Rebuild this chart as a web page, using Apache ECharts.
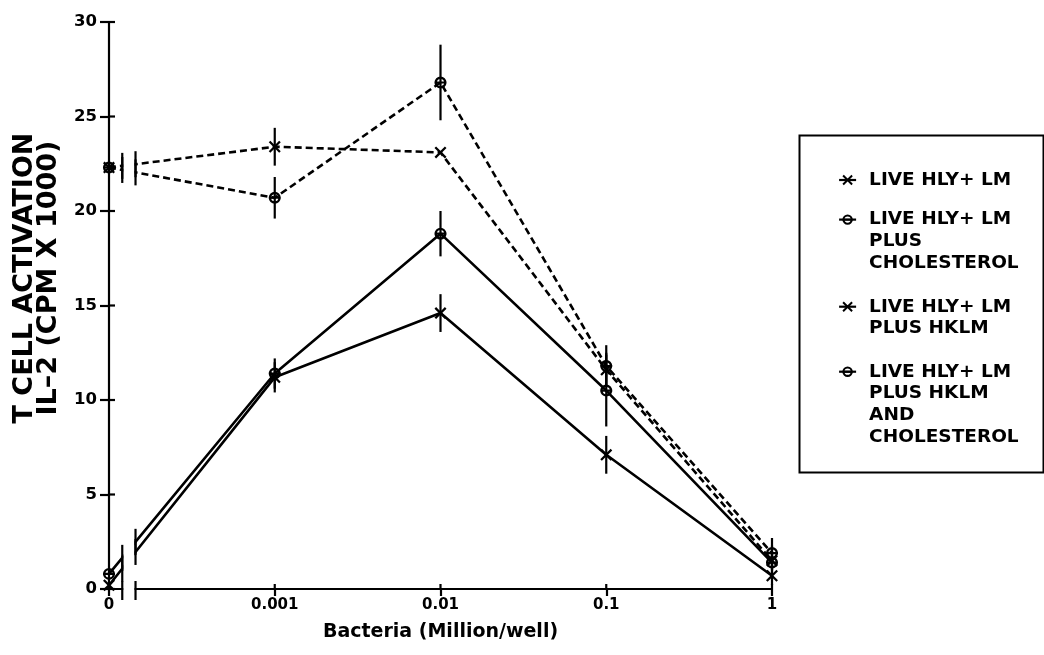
<!DOCTYPE html>
<html><head><meta charset="utf-8">
<script src="https://cdn.jsdelivr.net/npm/echarts@6/dist/echarts.min.js"></script>
<style>html,body{margin:0;padding:0;background:#fff}#chart{width:1044px;height:655px}</style>
</head><body><div id="chart"></div>
<script>
// ---- data ----
const X_LABELS = ['0', '0.001', '0.01', '0.1', '1'];
const X_POS = [0, 1, 2, 3, 4];           // log-decade positions of the categories
const Y_TICKS = [0, 5, 10, 15, 20, 25, 30];

const NAME_LIVE = 'LIVE HLY+ LM';
const NAME_LIVE_CHOL = 'LIVE HLY+ LM\nPLUS\nCHOLESTEROL';
const NAME_LIVE_HKLM = 'LIVE HLY+ LM\nPLUS HKLM';
const NAME_LIVE_HKLM_CHOL = 'LIVE HLY+ LM\nPLUS HKLM\nAND\nCHOLESTEROL';

const LIVE = [0.2, 11.2, 14.6, 7.1, 0.7];
const LIVE_ERR = [0, 0.8, 1.0, 1.0, 0.5];
const LIVE_CHOL = [0.8, 11.4, 18.8, 10.5, 1.4];
const LIVE_CHOL_ERR = [0, 0.8, 1.2, 1.9, 0.9];
const LIVE_HKLM = [22.3, 23.4, 23.1, 11.6, 1.5];
const LIVE_HKLM_ERR = [0, 1.0, 0, 0.9, 0.5];
const LIVE_HKLM_CHOL = [22.3, 20.7, 26.8, 11.8, 1.9];
const LIVE_HKLM_CHOL_ERR = [0, 1.1, 2.0, 1.1, 0.8];

// ---- styling / layout ----
const FONT = 'DejaVu Sans';
const BREAK_FROM = 0.08, BREAK_TO = 0.16;   // axis break between 0 and 0.001 (in decades)
const SYM_X = 'path://M0,1.6L1.6,0L12,10.4L10.4,12ZM10.4,0L12,1.6L1.6,12L0,10.4Z';
const SYM_THETA = 'path://M1,6A5,5,0,1,1,11,6A5,5,0,1,1,1,6ZM3,6A3,3,0,1,0,9,6A3,3,0,1,0,3,6ZM1,5.1L11,5.1L11,6.9L1,6.9Z';

const SERIES = [
  {name: NAME_LIVE, values: LIVE, errs: LIVE_ERR, symbol: SYM_X, dashed: false},
  {name: NAME_LIVE_CHOL, values: LIVE_CHOL, errs: LIVE_CHOL_ERR, symbol: SYM_THETA, dashed: false},
  {name: NAME_LIVE_HKLM, values: LIVE_HKLM, errs: LIVE_HKLM_ERR, symbol: SYM_X, dashed: true},
  {name: NAME_LIVE_HKLM_CHOL, values: LIVE_HKLM_CHOL, errs: LIVE_HKLM_CHOL_ERR, symbol: SYM_THETA, dashed: true}
];
const LEGEND_FIRST_LINE_Y = [180, 219.6, 306.7, 371.7];
const LEGEND_LH = 21.7;

const chart = echarts.init(document.getElementById('chart'), null, {renderer: 'canvas'});

const series = [];
SERIES.forEach(s => {
  series.push({
    type: 'line', name: s.name, z: 2,
    data: X_POS.map((x, i) => [x, s.values[i]]),
    symbol: s.symbol, symbolSize: 12, showSymbol: true,
    itemStyle: {color: '#000'},
    lineStyle: {color: '#000', width: 2.6, type: s.dashed ? [7, 4] : 'solid'},
    animation: false
  });
  series.push({
    type: 'custom', silent: true, z: 3,
    data: X_POS.map((x, i) => [x, s.values[i], s.errs[i]]),
    renderItem(params, api) {
      const x = api.value(0), v = api.value(1), e = api.value(2);
      if (!e) return null;
      const a = api.coord([x, v - e]), b = api.coord([x, v + e]);
      return {type: 'line', shape: {x1: a[0], y1: a[1], x2: b[0], y2: b[1]}, style: {stroke: '#000', lineWidth: 2.2}};
    },
    animation: false
  });
});
// axis decorations: inner half of the crossing ticks, the axis break gap and break marks
series.push({
  type: 'custom', silent: true, z: 10,
  data: [[0, 0]],
  renderItem(params, api) {
    const children = [];
    const stroke = {stroke: '#000', lineWidth: 2.2};
    Y_TICKS.forEach(t => {
      const p = api.coord([0, t]);
      children.push({type: 'line', shape: {x1: p[0], y1: p[1], x2: p[0] + 6, y2: p[1]}, style: stroke});
    });
    X_POS.forEach(x => {
      const p = api.coord([x, 0]);
      children.push({type: 'line', shape: {x1: p[0], y1: p[1], x2: p[0], y2: p[1] - 5}, style: stroke});
    });
    const tl = api.coord([BREAK_FROM, 30]);
    const br = api.coord([BREAK_TO, 0]);
    children.push({type: 'rect', shape: {x: tl[0] + 1, y: tl[1], width: br[0] - tl[0] - 2, height: br[1] - tl[1] + 5}, style: {fill: '#fff'}});
    [BREAK_FROM, BREAK_TO].forEach(bx => {
      const p = api.coord([bx, 0]);
      children.push({type: 'line', shape: {x1: p[0], y1: p[1] - 8, x2: p[0], y2: p[1] + 11}, style: stroke});
      SERIES.forEach(s => {
        const v = s.values[0] + (s.values[1] - s.values[0]) * bx;
        const q = api.coord([bx, v]);
        children.push({type: 'line', shape: {x1: q[0], y1: q[1] - 13, x2: q[0], y2: q[1] + 13}, style: stroke});
      });
    });
    return {type: 'group', children};
  },
  animation: false
});

const legends = SERIES.map((s, i) => {
  const n = s.name.split('\n').length;
  return {
    data: [s.name], orient: 'vertical', left: 838,
    top: LEGEND_FIRST_LINE_Y[i] - (2 * n - 1) * LEGEND_LH / 2,
    padding: 0, itemGap: 0, itemWidth: 17, itemHeight: 13, selectedMode: false,
    // leading blank lines keep the icon level with the first text line
    formatter: name => '\n'.repeat(n - 1) + name,
    textStyle: {fontFamily: FONT, fontWeight: 'bold', fontSize: 18.5, lineHeight: LEGEND_LH, color: '#000',
      padding: [0, 0, 0, 8]},
    lineStyle: {type: 'solid', width: 2.2, color: '#000'},
    itemStyle: {color: '#000'}
  };
});

const option = {
  backgroundColor: '#fff',
  animation: false,
  grid: {left: 109, right: 272, top: 22, bottom: 66, containLabel: false},
  xAxis: {
    type: 'value', min: 0, max: 4, interval: 1, position: 'bottom',
    name: 'Bacteria (Million/well)', nameLocation: 'middle', nameGap: 33,
    nameTextStyle: {fontFamily: FONT, fontWeight: 'bold', fontSize: 19, lineHeight: 20, color: '#000'},
    axisLine: {lineStyle: {color: '#000', width: 2.2}},
    axisTick: {inside: false, length: 7, lineStyle: {color: '#000', width: 2.2}},
    axisLabel: {margin: 9, fontFamily: FONT, fontWeight: 'bold', fontSize: 15, color: '#000',
      formatter: v => X_LABELS[X_POS.indexOf(v)] ?? ''},
    splitLine: {show: false}
  },
  yAxis: {
    type: 'value', min: 0, max: 30, interval: 5, position: 'left',
    name: 'T CELL ACTIVATION\nIL–2 (CPM X 1000)', nameLocation: 'middle', nameGap: 48, nameRotate: 90,
    nameTextStyle: {fontFamily: FONT, fontWeight: 'bold', fontSize: 27, lineHeight: 24, color: '#000', padding: [0, 0, 0, 55]},
    axisLine: {lineStyle: {color: '#000', width: 2.2}},
    axisTick: {inside: false, length: 9, lineStyle: {color: '#000', width: 2.2}},
    axisLabel: {margin: 12, fontFamily: FONT, fontWeight: 'bold', fontSize: 16.5, color: '#000',
      formatter: v => Y_TICKS.includes(v) ? String(v) : ''},
    splitLine: {show: false}
  },
  legend: legends,
  graphic: [{
    type: 'rect', left: 797, top: 133, silent: true,
    shape: {width: 244, height: 337}, style: {fill: 'none', stroke: '#000', lineWidth: 2}
  }],
  series
};
chart.setOption(option);
</script></body></html>
